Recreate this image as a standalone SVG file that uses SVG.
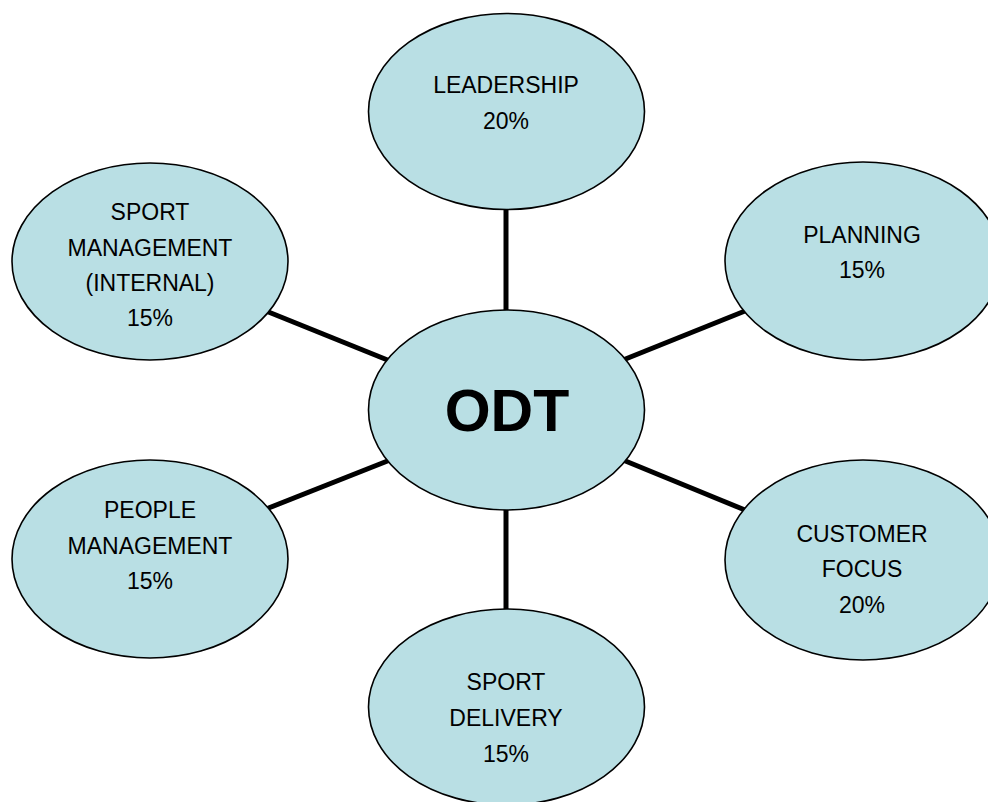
<svg xmlns="http://www.w3.org/2000/svg" width="988" height="802" viewBox="0 0 988 802">
<style>
.n{fill:#b9dfe4;stroke:#000;stroke-width:1.6}
.t{font-family:"Liberation Sans",Arial,sans-serif;font-size:23px;fill:#000;text-anchor:middle}
.b{font-family:"Liberation Sans",Arial,sans-serif;font-size:59px;font-weight:bold;fill:#000;text-anchor:middle}
.c{stroke:#000;stroke-width:5;fill:none}
</style>
<rect width="988" height="802" fill="#fff"/>
<g id="connectors">
<line class="c" x1="506" y1="208" x2="506" y2="312"/>
<line class="c" x1="506" y1="508" x2="506" y2="611"/>
<line class="c" x1="266" y1="311" x2="390" y2="361"/>
<line class="c" x1="623" y1="360" x2="745" y2="311"/>
<line class="c" x1="266" y1="509" x2="390" y2="460"/>
<line class="c" x1="623" y1="460" x2="745" y2="510"/>
</g>
<g id="leadership">
<ellipse class="n" cx="506.5" cy="111.5" rx="138" ry="98"/>
<text class="t" x="506" y="93">LEADERSHIP</text>
<text class="t" x="506" y="129">20%</text>
</g>
<g id="planning">
<ellipse class="n" cx="863" cy="261" rx="138" ry="99"/>
<text class="t" x="862" y="243">PLANNING</text>
<text class="t" x="862" y="278">15%</text>
</g>
<g id="sport-management">
<ellipse class="n" cx="150" cy="261.5" rx="138" ry="98.5"/>
<text class="t" x="150" y="220">SPORT</text>
<text class="t" x="150" y="256">MANAGEMENT</text>
<text class="t" x="150" y="291">(INTERNAL)</text>
<text class="t" x="150" y="326">15%</text>
</g>
<g id="odt">
<ellipse class="n" cx="506.5" cy="410" rx="138" ry="100"/>
<text class="b" x="507" y="431">ODT</text>
</g>
<g id="people-management">
<ellipse class="n" cx="150" cy="559" rx="138" ry="99"/>
<text class="t" x="150" y="518">PEOPLE</text>
<text class="t" x="150" y="554">MANAGEMENT</text>
<text class="t" x="150" y="589">15%</text>
</g>
<g id="customer-focus">
<ellipse class="n" cx="863" cy="560" rx="138" ry="100"/>
<text class="t" x="862" y="542">CUSTOMER</text>
<text class="t" x="862" y="577">FOCUS</text>
<text class="t" x="862" y="613">20%</text>
</g>
<g id="sport-delivery">
<ellipse class="n" cx="506.5" cy="707" rx="138" ry="98"/>
<text class="t" x="506" y="690">SPORT</text>
<text class="t" x="506" y="726">DELIVERY</text>
<text class="t" x="506" y="762">15%</text>
</g>
</svg>
